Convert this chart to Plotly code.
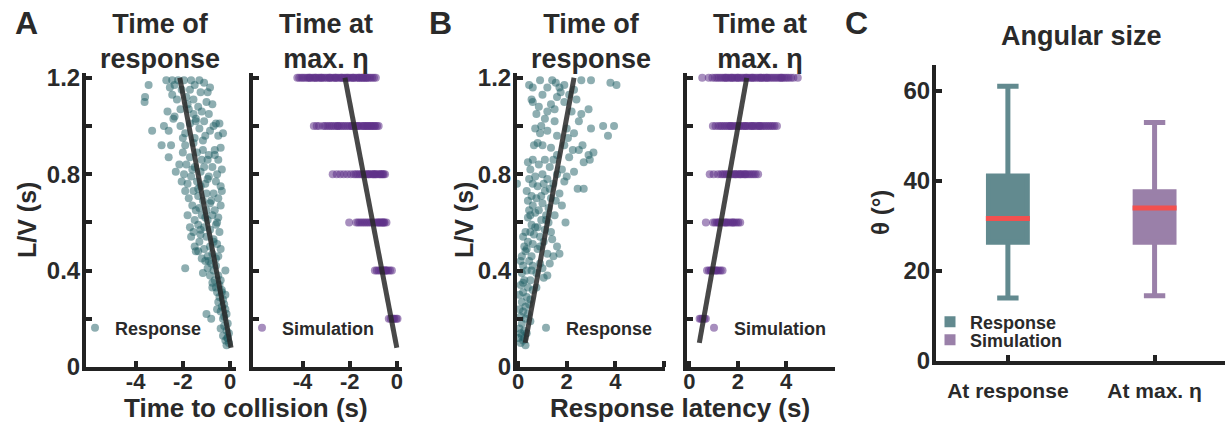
import plotly.graph_objects as go

W, H = 1225, 424
FONT = "Liberation Sans, Arial, Helvetica, sans-serif"
TXT = "#2a2a2a"
TEAL_DOT = "#1d5e63"
PURP_DOT = "#5e3189"
TEAL_BOX = "#628a8f"
PURP_BOX = "#9a80a9"
MED_RED = "#f2504f"

# ---------------- Panel A (left): response, time to collision vs L/V -----------
resp_ttc = [
    -2.7, -2.45, -2.2, -1.95, -1.65, -1.3, -1.1, -2.35, -1.5, -0.85, -3.45, -2.05, -1.7, -1.25, -0.95,
    -3.6, -3.62, -2.45, -1.85, -2.25, -1.55, -1.0, -0.75, -1.35, -2.1, -1.75, -2.65, -1.2, -0.9, -1.55, -2.35,
    -2.4, -1.45, -0.6, -0.45, -1.1, -1.7, -2.8, -2.1, -1.3, -0.85, -3.3, -2.6, -1.9, -0.5, -1.05, -1.5, -0.3,
    -2.9, -2.5, -1.9, -1.55, -0.4, -0.65, -1.15, -2.0, -1.4, -0.9, -2.6, -1.7, -0.5, -1.2, -0.95,
    -2.15, -1.85, -1.5, -1.1, -0.75, -0.35, -2.3, -1.25, -0.55, -1.95, -1.65, -0.9, -2.05, -1.4, -0.6, -1.8, -1.05, -0.4, -1.25,
    -1.9, -1.55, -1.0, -0.7, -0.35, -1.35, -1.75, -0.5, -1.15, -0.85, -1.6, -0.4, -1.3, -1.0, -0.65, -1.45,
    -1.8, -1.2, -0.75, -0.5, -1.5, -0.95, -1.35, -0.6, -1.7, -1.1, -0.85, -1.55, -0.45, -1.25,
    -1.65, -1.0, -0.7, -1.3, -0.55, -1.5, -0.85, -1.1, -0.4, -1.35, -0.75, -0.95, -0.5, -1.2,
    -1.9, -1.05, -0.8, -0.6, -0.95, -0.2, -0.7, -0.5, -0.85, -0.65, -0.4, -0.75,
    -0.45, -0.6, -0.35, -0.55, -0.2, -0.45, -0.3, -0.5, -0.25,
    -0.35, -0.2, -0.4, -1.0, -0.15, -0.8, -0.3, -0.1, -0.25, -0.15, -0.05, -0.3, -0.1, -0.2, -0.05, -0.15,
    -2.55, -1.8, -1.45, -0.7, -2.0, -1.15, -0.65, -1.6, -0.95, -1.35, -0.8, -1.05, -0.55, -1.25, -0.7,
    -1.45, -0.9, -0.6, -1.15, -0.75, -0.35, -0.55, -0.25, -0.4, -0.12,
]
resp_lv_a = [
    1.19, 1.19, 1.19, 1.19, 1.19, 1.19, 1.18, 1.17, 1.17, 1.16, 1.17, 1.15, 1.15, 1.14, 1.14,
    1.12, 1.10, 1.13, 1.12, 1.11, 1.11, 1.10, 1.09, 1.08, 1.07, 1.07, 1.06, 1.06, 1.05, 1.05, 1.04,
    1.03, 1.03, 1.01, 1.01, 1.02, 1.01, 1.00, 1.00, 0.99, 0.98, 0.98, 0.98, 0.97, 0.96, 0.96, 0.95, 0.97,
    0.92, 0.92, 0.92, 0.93, 0.91, 0.90, 0.90, 0.89, 0.89, 0.88, 0.87, 0.87, 0.86, 0.86, 0.86,
    0.84, 0.84, 0.83, 0.83, 0.83, 0.82, 0.81, 0.81, 0.80, 0.80, 0.79, 0.79, 0.77, 0.77, 0.77, 0.76, 0.76, 0.75, 0.75,
    0.73, 0.73, 0.72, 0.72, 0.73, 0.71, 0.70, 0.70, 0.69, 0.68, 0.67, 0.67, 0.66, 0.65, 0.65, 0.65,
    0.63, 0.63, 0.63, 0.62, 0.61, 0.61, 0.59, 0.59, 0.58, 0.58, 0.57, 0.56, 0.56, 0.55,
    0.54, 0.54, 0.53, 0.52, 0.51, 0.50, 0.50, 0.49, 0.49, 0.48, 0.47, 0.46, 0.46, 0.45,
    0.41, 0.44, 0.43, 0.42, 0.41, 0.40, 0.40, 0.38, 0.38, 0.36, 0.36, 0.35,
    0.34, 0.33, 0.32, 0.31, 0.30, 0.29, 0.28, 0.27, 0.26,
    0.25, 0.24, 0.23, 0.22, 0.22, 0.20, 0.20, 0.18, 0.17, 0.15, 0.14, 0.13, 0.12, 0.11, 0.10, 0.09,
    1.16, 1.09, 1.02, 1.0, 0.95, 0.94, 0.88, 0.82, 0.78, 0.74, 0.69, 0.62, 0.6, 0.57, 0.52,
    0.48, 0.44, 0.45, 0.39, 0.33, 0.31, 0.24, 0.21, 0.16, 0.12,
]
fit_a_resp_ttc = [-2.13, 0.04]
fit_a_resp_lv = [1.2, 0.08]

# ---------------- Panel A (right): simulation, time at max eta ----------------
sim_levels = [1.2, 1.0, 0.8, 0.6, 0.4, 0.2]
sim_ttc_by_level = [
    [-4.22, -4.14, -4.05, -3.98, -3.9, -3.81, -3.74, -3.66, -3.57, -3.5, -3.42, -3.33, -3.26, -3.18, -3.1,
     -3.02, -2.94, -2.86, -2.79, -2.7, -2.62, -2.55, -2.47, -2.38, -2.3, -2.22, -2.15, -2.06, -1.98, -1.9,
     -1.83, -1.74, -1.66, -1.58, -1.5, -1.42, -1.35, -1.27, -1.2, -1.13, -1.05, -0.97, -0.89,
     -3.7, -3.2, -2.6, -2.1, -1.6, -1.3, -3.45, -2.85, -2.35, -1.85, -1.45],
    [-3.52, -3.4, -3.3, -3.12, -3.04, -2.95, -2.86, -2.78, -2.7, -2.61, -2.52, -2.44, -2.35, -2.27, -2.19,
     -2.1, -2.02, -1.93, -1.85, -1.76, -1.68, -1.6, -1.51, -1.43, -1.34, -1.26, -1.18, -1.09, -1.01, -0.92,
     -0.84, -0.77, -2.5, -1.9, -1.4, -1.1, -1.65, -1.25, -0.95],
    [-2.72, -2.55, -2.4, -2.25, -2.1, -1.95, -1.82, -1.74, -1.66, -1.58, -1.5, -1.43, -1.35, -1.27, -1.19,
     -1.11, -1.03, -0.96, -0.88, -0.8, -0.72, -0.64, -0.56, -0.5, -1.2, -0.9, -0.7, -1.0, -0.6],
    [-2.02, -1.72, -1.64, -1.56, -1.48, -1.4, -1.32, -1.24, -1.16, -1.08, -1.0, -0.92, -0.84, -0.76, -0.68,
     -0.6, -0.52, -0.44, -0.8, -0.6, -0.7, -0.55],
    [-0.93, -0.85, -0.77, -0.69, -0.61, -0.53, -0.45, -0.37, -0.29, -0.21, -0.6, -0.45, -0.5],
    [-0.34, -0.26, -0.18, -0.1, -0.02, 0.03, -0.14],
]
fit_a_sim_ttc = [-2.2, 0.0]
fit_a_sim_lv = [1.2, 0.08]

# ---------------- Panel B (left): response latency vs L/V --------------------
resp_lat = [
    0.45, 0.9, 1.4, 1.55, 1.9, 2.6, 3.0, 3.8, 4.05, 1.2, 0.6, 2.3, 1.7,
    0.55, 0.6, 1.0, 1.6, 2.1, 0.85, 1.35, 1.9, 2.4, 2.9, 2.6, 1.2, 0.75, 2.2, 1.5,
    0.95, 1.5, 2.5, 3.5, 3.95, 3.0, 2.0, 1.2, 0.7, 2.3, 3.7, 1.6, 0.9,
    0.65, 1.0, 1.9, 2.25, 2.5, 1.35, 3.1, 2.9, 1.6, 0.6, 1.1, 2.1, 2.7, 2.95, 0.4,
    0.85, 1.3, 1.8, 2.3, 0.5, 1.6, 1.0, 0.7, 2.0, 1.2, 0.45, 1.9, 2.45, 2.7, 1.05, 0.6, -0.05, 1.45, 0.8,
    0.35, 1.1, 1.7, 0.55, 1.35, 0.75, 0.4, 1.0, 1.8, 0.6, 1.25, 0.85, 0.45,
    0.7, 1.15, 1.5, 0.4, 0.95, 1.25, 1.95, 0.55, 0.8, 1.1, 0.3, 0.5, 1.35, 0.65,
    0.2, 0.9, 1.4, 0.4, 1.05, 0.6, 0.25, 1.6, 0.8, 0.3, 1.7, 1.2, 0.55, 0.15, 1.45,
    0.1, 0.45, 0.9, 0.2, 0.6, 1.0, 0.35, 0.15, 0.75, 1.2, 1.05, 0.5, 0.25,
    0.1, 0.4, 0.6, 0.2, 0.05, 0.35, 0.5, 0.15, 0.45, 0.3,
    0.05, 0.2, 0.4, 0.1, 0.3, 0.15, 0.05, 0.25, 0.1, 0.35, 0.0, 0.2, 0.1, 0.3, 0.15,
    1.75, 1.1, 2.05, 0.8, 1.45, 2.65, 1.3, 0.95, 1.55, 0.5, 1.15, 0.7, 0.9, 0.35, 0.55,
    1.3, 0.75, 0.2, 0.5, 0.25,
]
resp_lv_b = [
    1.17, 1.19, 1.19, 1.18, 1.17, 1.19, 1.19, 1.18, 1.17, 1.16, 1.16, 1.15, 1.16,
    1.11, 1.10, 1.13, 1.12, 1.13, 1.08, 1.09, 1.10, 1.11, 1.07, 1.05, 1.06, 1.05, 1.06, 1.07,
    1.00, 1.02, 1.02, 1.00, 1.00, 0.99, 0.99, 0.98, 0.99, 0.97, 0.96, 0.96, 0.97,
    0.92, 0.92, 0.92, 0.90, 0.90, 0.91, 0.89, 0.88, 0.88, 0.86, 0.86, 0.87, 0.85, 0.86, 0.85,
    0.84, 0.83, 0.82, 0.81, 0.82, 0.80, 0.80, 0.79, 0.79, 0.78, 0.78, 0.77, 0.74, 0.74, 0.76, 0.76, 0.76, 0.76, 0.75,
    0.73, 0.73, 0.72, 0.71, 0.70, 0.70, 0.69, 0.68, 0.67, 0.67, 0.66, 0.65, 0.65,
    0.64, 0.63, 0.63, 0.62, 0.61, 0.60, 0.60, 0.59, 0.58, 0.57, 0.56, 0.56, 0.56, 0.55,
    0.54, 0.54, 0.53, 0.52, 0.52, 0.51, 0.50, 0.50, 0.49, 0.48, 0.47, 0.47, 0.46, 0.46, 0.46,
    0.44, 0.44, 0.43, 0.42, 0.42, 0.41, 0.40, 0.39, 0.39, 0.38, 0.37, 0.36, 0.36,
    0.34, 0.33, 0.32, 0.31, 0.30, 0.29, 0.28, 0.27, 0.26, 0.25,
    0.24, 0.23, 0.22, 0.21, 0.20, 0.18, 0.16, 0.15, 0.14, 0.14, 0.12, 0.11, 0.10, 0.09, 0.13,
    1.14, 1.03, 0.95, 0.93, 0.86, 0.92, 0.74, 0.71, 0.69, 0.63, 0.61, 0.58, 0.5, 0.49, 0.4,
    0.43, 0.33, 0.35, 0.19, 0.12,
]
fit_b_resp_lat = [0.29, 2.3]
fit_b_resp_lv = [0.1, 1.2]

# ---------------- Panel B (right): simulation latency -------------------------
sim_lat_by_level = [
    [0.53, 0.8, 0.95, 1.06, 1.14, 1.22, 1.3, 1.38, 1.46, 1.54, 1.62, 1.7, 1.78, 1.86, 1.94, 2.02, 2.1,
     2.18, 2.26, 2.34, 2.42, 2.5, 2.58, 2.66, 2.74, 2.82, 2.9, 2.98, 3.06, 3.14, 3.22, 3.3, 3.38, 3.46,
     3.54, 3.62, 3.7, 3.78, 3.86, 3.94, 4.02, 4.1, 4.2, 4.3, 4.48, 1.5, 2.0, 2.6, 3.2, 3.8, 1.75, 2.35, 2.95],
    [0.97, 1.08, 1.2, 1.28, 1.36, 1.44, 1.52, 1.6, 1.68, 1.76, 1.84, 1.92, 2.0, 2.08, 2.16, 2.24, 2.32,
     2.4, 2.48, 2.56, 2.64, 2.72, 2.8, 2.88, 2.96, 3.04, 3.12, 3.2, 3.28, 3.36, 3.44, 3.52, 3.62, 1.7, 2.3, 2.9,
     2.05, 2.6],
    [0.84, 1.0, 1.18, 1.3, 1.38, 1.46, 1.54, 1.62, 1.7, 1.78, 1.86, 1.94, 2.02, 2.1, 2.18, 2.26, 2.34,
     2.42, 2.5, 2.58, 2.66, 2.74, 2.84, 1.9, 2.3, 2.1],
    [0.68, 0.98, 1.06, 1.14, 1.22, 1.3, 1.38, 1.46, 1.54, 1.62, 1.7, 1.78, 1.86, 1.94, 2.02, 2.1, 1.2, 1.5, 1.8],
    [0.73, 0.81, 0.89, 0.97, 1.05, 1.13, 1.21, 1.29, 1.37, 0.9, 1.1],
    [0.42, 0.48, 0.55, 0.62, 0.68],
]
fit_b_sim_lat = [0.41, 2.37]
fit_b_sim_lv = [0.1, 1.2]

# ---------------- Panel C: angular size box plots -----------------------------
box_pos = [1, 2]
box_labels = ["At response", "At max. η"]
box_names = ["Response", "Simulation"]
box_q1 = [26.4, 26.4]
box_median = [31.7, 34.0]
box_q3 = [41.1, 37.6]
box_low = [14.0, 14.5]
box_high = [61.1, 53.0]
box_half = 0.15

sim_lv = []
sim_ttc = []
sim_lat_lv = []
sim_lat = []
for lv, xs in zip(sim_levels, sim_ttc_by_level):
    sim_lv += [lv] * len(xs)
    sim_ttc += xs
for lv, xs in zip(sim_levels, sim_lat_by_level):
    sim_lat_lv += [lv] * len(xs)
    sim_lat += xs

fig = go.Figure()

dot_teal = dict(size=8, color=TEAL_DOT, opacity=0.5, line=dict(width=0))
dot_purp = dict(size=8, color=PURP_DOT, opacity=0.55, line=dict(width=0))
fitline = dict(color="rgba(40,40,40,0.85)", width=5)
leg_font = dict(family=FONT, size=18, color=TXT, weight="bold")

fig.add_trace(go.Scatter(x=resp_ttc, y=resp_lv_a, mode="markers", marker=dot_teal, name="Response",
                         xaxis="x", yaxis="y", legend="legend"))
fig.add_trace(go.Scatter(x=fit_a_resp_ttc, y=fit_a_resp_lv, mode="lines", line=fitline, showlegend=False,
                         xaxis="x", yaxis="y"))
fig.add_trace(go.Scatter(x=sim_ttc, y=sim_lv, mode="markers", marker=dot_purp, name="Simulation",
                         xaxis="x2", yaxis="y2", legend="legend2"))
fig.add_trace(go.Scatter(x=fit_a_sim_ttc, y=fit_a_sim_lv, mode="lines", line=fitline, showlegend=False,
                         xaxis="x2", yaxis="y2"))
fig.add_trace(go.Scatter(x=resp_lat, y=resp_lv_b, mode="markers", marker=dot_teal, name="Response",
                         xaxis="x3", yaxis="y3", legend="legend3"))
fig.add_trace(go.Scatter(x=fit_b_resp_lat, y=fit_b_resp_lv, mode="lines", line=fitline, showlegend=False,
                         xaxis="x3", yaxis="y3"))
fig.add_trace(go.Scatter(x=sim_lat, y=sim_lat_lv, mode="markers", marker=dot_purp, name="Simulation",
                         xaxis="x4", yaxis="y4", legend="legend4"))
fig.add_trace(go.Scatter(x=fit_b_sim_lat, y=fit_b_sim_lv, mode="lines", line=fitline, showlegend=False,
                         xaxis="x4", yaxis="y4"))

for i, col in enumerate([TEAL_BOX, PURP_BOX]):
    fig.add_trace(go.Box(x=[box_pos[i]], q1=[box_q1[i]], median=[box_median[i]], q3=[box_q3[i]],
                         lowerfence=[box_low[i]], upperfence=[box_high[i]],
                         fillcolor=col, line=dict(color=col, width=5), width=0.265,
                         whiskerwidth=0.55, boxpoints=False, showlegend=False, hoverinfo="skip",
                         xaxis="x5", yaxis="y5"))
    fig.add_trace(go.Scatter(x=[box_pos[i] - box_half, box_pos[i] + box_half],
                             y=[box_median[i], box_median[i]], mode="lines",
                             line=dict(color=MED_RED, width=5), showlegend=False,
                             xaxis="x5", yaxis="y5"))
    fig.add_trace(go.Scatter(x=[None], y=[None], mode="markers", name=box_names[i],
                             marker=dict(symbol="square", size=11, color=col),
                             xaxis="x5", yaxis="y5", legend="legend5" if i == 0 else "legend6"))


def px_x(p):
    return min(1.0, max(0.0, p / W))


def px_y(p):
    return min(1.0, max(0.0, 1 - p / H))


axis_common = dict(showline=True, linecolor="#222", linewidth=4, ticks="inside", tickcolor="#222",
                   tickwidth=4, ticklen=6, showgrid=False, zeroline=False, automargin=False,
                   tickfont=dict(family=FONT, size=24, color=TXT, weight="bold"))
xtick_font = dict(family=FONT, size=22, color=TXT, weight="bold")

yA_vals = [0, 0.2, 0.4, 0.6, 0.8, 1.0, 1.2]
yA_text = ["0", "", "0.4", "", "0.8", "", "1.2"]
ydom = [px_y(367), px_y(73)]
XSTAND = -8


def xax(**kw):
    d = {**axis_common, "tickfont": xtick_font, "ticklabelstandoff": XSTAND}
    d.update(kw)
    return d


def yax(**kw):
    d = dict(axis_common)
    d.update(kw)
    return d


lay = dict(
    width=W, height=H, margin=dict(l=0, r=0, t=0, b=0, pad=0, autoexpand=False), autosize=False,
    paper_bgcolor="white", plot_bgcolor="white", font=dict(family=FONT, color=TXT),
    xaxis=xax(domain=[px_x(86), px_x(236)], range=[-6.1, 0.25], tickvals=[-4, -2, 0],
              ticktext=["-4", "-2", "0"], anchor="y"),
    yaxis=yax(domain=ydom, range=[0, 1.22], tickvals=yA_vals, ticktext=yA_text, anchor="x",
              ticklabelstandoff=-3),
    xaxis2=xax(domain=[px_x(253), px_x(402)], range=[-6.1, 0.22], tickvals=[-4, -2, 0],
               ticktext=["-4", "-2", "0"], anchor="y2"),
    yaxis2=yax(domain=ydom, range=[0, 1.22], tickvals=yA_vals, showticklabels=False, anchor="x2"),
    xaxis3=xax(domain=[px_x(517), px_x(665)], range=[-0.05, 6.05], tickvals=[0, 2, 4, 6],
               ticktext=["0", "2", "4", ""], anchor="y3"),
    yaxis3=yax(domain=ydom, range=[0, 1.22], tickvals=yA_vals, ticktext=yA_text, anchor="x3",
               ticklabelstandoff=-3),
    xaxis4=xax(domain=[px_x(687), px_x(835)], range=[-0.1, 6.02], tickvals=[0, 2, 4, 6],
               ticktext=["0", "2", "4", ""], anchor="y4"),
    yaxis4=yax(domain=ydom, range=[0, 1.22], tickvals=yA_vals, showticklabels=False, anchor="x4"),
    xaxis5=xax(domain=[px_x(936), px_x(1225)], range=[0.51, 2.48], tickvals=box_pos, ticktext=box_labels,
               anchor="y5", ticklabelstandoff=8, tickfont=dict(family=FONT, size=21, color=TXT, weight="bold")),
    yaxis5=yax(domain=[px_y(361), px_y(65)], range=[0, 65.8], tickvals=[0, 20, 40, 60], anchor="x5",
               ticklabelstandoff=-3),
)

leg_base = dict(bgcolor="rgba(0,0,0,0)", borderwidth=0, font=leg_font, xanchor="left", yanchor="middle",
                itemwidth=30, tracegroupgap=0)
lay["legend"] = dict(x=px_x(75), y=px_y(328), **leg_base)
lay["legend2"] = dict(x=px_x(242), y=px_y(328), **leg_base)
lay["legend3"] = dict(x=px_x(526), y=px_y(328), **leg_base)
lay["legend4"] = dict(x=px_x(694), y=px_y(328), **leg_base)
lay["legend5"] = dict(x=px_x(930), y=px_y(322), **leg_base)
lay["legend6"] = dict(x=px_x(930), y=px_y(340), **leg_base)

fig.update_layout(**lay)

ann = []


def add_text(text, x, y, size, angle=0):
    ann.append(dict(text=text, x=px_x(x), y=px_y(y), xref="paper", yref="paper", showarrow=False,
                    xanchor="center", yanchor="middle", textangle=angle,
                    font=dict(family=FONT, size=size, color=TXT, weight="bold")))


add_text("A", 26, 23, 32)
add_text("B", 440, 23, 32)
add_text("C", 856, 23, 32)
add_text("Time of<br>response", 160, 41, 27)
add_text("Time at<br>max. η", 326, 41, 27)
add_text("Time of<br>response", 591, 41, 27)
add_text("Time at<br>max. η", 760, 41, 27)
add_text("Angular size", 1081, 36, 27)
add_text("Time to collision (s)", 246, 408, 26)
add_text("Response latency (s)", 680, 408, 26)
add_text("L/V (s)", 27, 220, 25, -90)
add_text("L/V (s)", 464, 220, 25, -90)
add_text("θ (°)", 880, 213, 24, -90)
fig.update_layout(annotations=ann)

fig.write_html("out.html")
